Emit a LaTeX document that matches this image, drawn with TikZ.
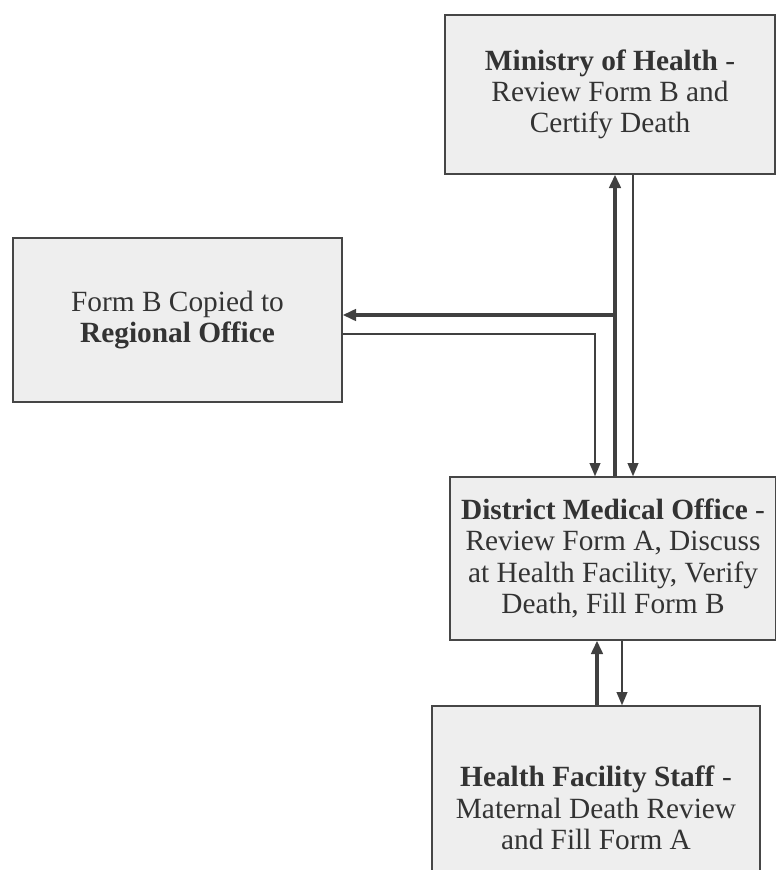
\documentclass[tikz,border=0pt]{standalone}
\usepackage{fontspec}
\setmainfont{Liberation Serif}
\usetikzlibrary{arrows.meta}
\begin{document}
\begin{tikzpicture}[x=0.75pt,y=-0.75pt,
  box/.style={draw=gray!55!black, line width=1pt, fill=gray!13, align=center,
    text=black!80, font=\fontsize{22}{23.5}\selectfont, inner sep=0pt},
  thickarrow/.style={draw=black!75, line width=3pt, -{Triangle[length=10pt,width=8.5pt]}},
  thinarrow/.style={draw=black!75, line width=1.5pt, -{Triangle[length=10pt,width=8pt]}}]
\useasboundingbox[fill=white] (0,0) rectangle (775,870);
\node[box, minimum width=247.5pt, minimum height=119.25pt] (moh) at (610,94.5)
  {\textbf{Ministry of Health} -\\Review Form B and\\Certify Death};
\node[box, minimum width=246.75pt, minimum height=123pt] (formb) at (177.5,320)
  {Form B Copied to\\\textbf{Regional Office}};
\node[box, minimum width=244.5pt, minimum height=122.25pt] (dmo) at (613,558.5)
  {\textbf{District Medical Office} -\\Review Form A, Discuss\\at Health Facility, Verify\\Death, Fill Form B};
\node[box, minimum width=246pt, minimum height=153pt] (hfs) at (596,808)
  {\textbf{Health Facility Staff} -\\Maternal Death Review\\and Fill Form A};
\coordinate (c1) at (615,0);
\coordinate (br) at (615,315);
\coordinate (c2) at (595,334);
\coordinate (c3) at (633,0);
\coordinate (c4) at (597,0);
\coordinate (c5) at (622,0);
\draw[thickarrow] (c1 |- dmo.north) -- (c1 |- moh.south);
\draw[thickarrow] (br) -- (br -| formb.east);
\draw[thinarrow] (formb.east |- c2) -- (c2) -- (c2 |- dmo.north);
\draw[thinarrow] (c3 |- moh.south) -- (c3 |- dmo.north);
\draw[thickarrow] (c4 |- hfs.north) -- (c4 |- dmo.south);
\draw[thinarrow] (c5 |- dmo.south) -- (c5 |- hfs.north);
\end{tikzpicture}
\end{document}
